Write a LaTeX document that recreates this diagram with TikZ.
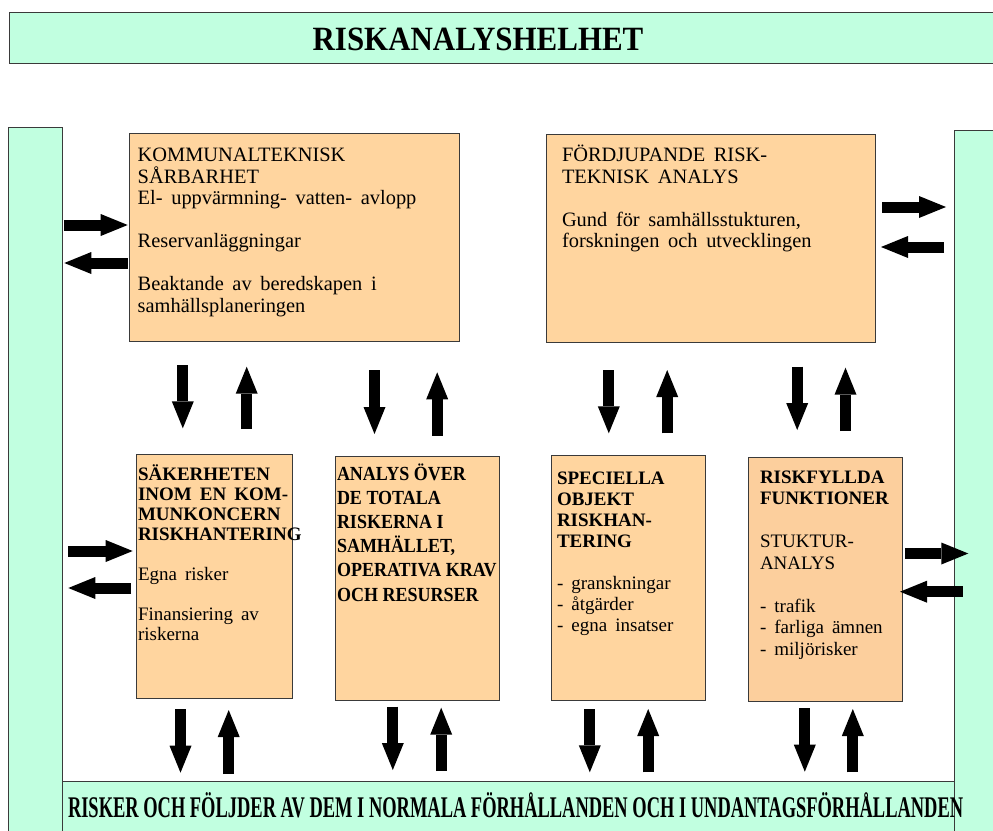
\documentclass[tikz,border=0pt]{standalone}
\usepackage{fontspec}
\setmainfont[WordSpace=1.7]{Liberation Serif}
\newfontfamily\titlefont[FakeStretch=0.91]{Liberation Serif}
\newfontfamily\bottomfont[FakeStretch=0.615]{Liberation Serif}
\newfontfamily\condfont[FakeStretch=0.9]{Liberation Serif}
\usetikzlibrary{arrows.meta}
\definecolor{mint}{HTML}{C1FFE0}
\definecolor{peach}{HTML}{FFD59F}
\definecolor{peachb}{HTML}{FCCF9D}
\definecolor{edge}{HTML}{3A3A3A}
\begin{document}
\begin{tikzpicture}[x=1pt,y=-1pt,
  panel/.style={draw=edge, line width=1pt, fill=mint, anchor=north west, inner sep=0pt, outer sep=0pt},
  box/.style={draw=edge, line width=1pt, fill=peach, anchor=north west, inner sep=0pt, outer sep=0pt},
  txt/.style={inner sep=0pt, outer sep=0pt, anchor=base west, align=left},
  blk/.style={line width=11pt, -{Triangle[width=22pt,length=27pt,line width=0pt]}},
]
\useasboundingbox (0,0) rectangle (993,830);
% panels
\node[panel, minimum width=990pt, minimum height=51pt] (top) at (9,12) {};
\node[anchor=base, inner sep=0pt] (toptext) at (478,50) {\titlefont\bfseries\fontsize{34}{36}\selectfont RISKANALYSHELHET};
\node[panel, minimum width=53.5pt, minimum height=710pt] (lcol) at (8.5,127.5) {};
\node[panel, minimum width=45pt, minimum height=710pt] (rcol) at (954,130) {};
\node[panel, minimum width=892pt, minimum height=60pt] (band) at (62,781) {};
\node[txt] (bandtext) at (68,817) {\bottomfont\bfseries\fontsize{30}{32}\selectfont RISKER OCH FÖLJDER AV DEM I NORMALA FÖRHÅLLANDEN OCH I UNDANTAGSFÖRHÅLLANDEN};
% boxes
\node[box, minimum width=330.3pt, minimum height=207.7pt] (k1) at (129,133.3) {};
\node[box, minimum width=329.7pt, minimum height=208.7pt] (k2) at (546,134) {};
\node[box, minimum width=155.3pt, minimum height=244pt] (k3) at (136.7,454) {};
\node[box, minimum width=164pt, minimum height=244pt] (k4) at (335,456) {};
\node[box, minimum width=154.2pt, minimum height=244.3pt] (k5) at (551.5,455.7) {};
\node[box, fill=peachb, minimum width=154pt, minimum height=243.7pt] (k6) at (748.3,457.3) {};
% texts (anchor = baseline of the last line)
\node[txt, font=\fontsize{20.4}{21.5}\selectfont] (t1) at (137.7,312.2) {KOMMUNALTEKNISK\\SÅRBARHET\\El- uppvärmning- vatten- avlopp\\[21.5pt]Reservanläggningar\\[21.5pt]Beaktande av beredskapen i\\samhällsplaneringen};
\node[txt, font=\fontsize{20.4}{21.5}\selectfont] (t2) at (562,247.7) {FÖRDJUPANDE RISK-\\TEKNISK ANALYS\\[21.5pt]Gund för samhällsstukturen,\\forskningen och utvecklingen};
\node[txt, font=\fontsize{19}{20}\selectfont] (t3) at (138,640) {\textbf{SÄKERHETEN}\\\textbf{INOM EN KOM-}\\\textbf{MUNKONCERN}\\\textbf{RISKHANTERING}\\[20pt]Egna risker\\[20pt]Finansiering av\\riskerna};
\node[txt, font=\condfont\bfseries\fontsize{20}{24.2}\selectfont] (t4) at (337,601) {ANALYS ÖVER\\DE TOTALA\\RISKERNA I\\SAMHÄLLET,\\OPERATIVA KRAV\\OCH RESURSER};
\node[txt, font=\fontsize{19}{21}\selectfont] (t5) at (557,631) {\textbf{SPECIELLA}\\\textbf{OBJEKT}\\\textbf{RISKHAN-}\\\textbf{TERING}\\[21pt]- granskningar\\- åtgärder\\- egna insatser};
\node[txt, font=\fontsize{19}{21.5}\selectfont] (t6) at (760,655) {\textbf{RISKFYLLDA}\\\textbf{FUNKTIONER}\\[21.5pt]STUKTUR-\\ANALYS\\[21.5pt]- trafik\\- farliga ämnen\\- miljörisker};
% arrow end points
\coordinate (a1s) at (64.3,225);   \coordinate (a1e) at (127.7,225);
\coordinate (a2s) at (127.7,263);  \coordinate (a2e) at (64.3,263);
\coordinate (a3s) at (882.3,207);  \coordinate (a3e) at (946,207);
\coordinate (a4s) at (944,247);    \coordinate (a4e) at (881,247);
\coordinate (a5s) at (68.3,551);   \coordinate (a5e) at (132.7,551);
\coordinate (a6s) at (131,588);    \coordinate (a6e) at (68.3,588);
\coordinate (a7s) at (905,553.5);  \coordinate (a7e) at (968.3,553.5);
\coordinate (a8s) at (962.7,591.7); \coordinate (a8e) at (900,591.7);
\draw[blk] (a1s) -- (a1e);
\draw[blk] (a2s) -- (a2e);
\draw[blk] (a3s) -- (a3e);
\draw[blk] (a4s) -- (a4e);
\draw[blk] (a5s) -- (a5e);
\draw[blk] (a6s) -- (a6e);
\draw[blk] (a7s) -- (a7e);
\draw[blk] (a8s) -- (a8e);
% vertical arrows, middle row
\coordinate (m1s) at (182.8,365);   \coordinate (m1e) at (182.8,428.3);
\coordinate (m2s) at (246.7,429);   \coordinate (m2e) at (246.7,366.7);
\coordinate (m3s) at (374.5,370);   \coordinate (m3e) at (374.5,434);
\coordinate (m4s) at (437.2,435.7); \coordinate (m4e) at (437.2,372.3);
\coordinate (m5s) at (608.8,370);   \coordinate (m5e) at (608.8,433.3);
\coordinate (m6s) at (667.2,433.3); \coordinate (m6e) at (667.2,370);
\coordinate (m7s) at (797.2,366.7); \coordinate (m7e) at (797.2,430);
\coordinate (m8s) at (845.5,431);   \coordinate (m8e) at (845.5,367.7);
\foreach \i in {1,...,8} \draw[blk] (m\i s) -- (m\i e);
% vertical arrows, bottom row
\coordinate (b1s) at (180.5,709.3); \coordinate (b1e) at (180.5,772.7);
\coordinate (b2s) at (228.7,774);   \coordinate (b2e) at (228.7,710);
\coordinate (b3s) at (392.8,706.7); \coordinate (b3e) at (392.8,770);
\coordinate (b4s) at (441.2,771);   \coordinate (b4e) at (441.2,707.7);
\coordinate (b5s) at (589.8,709.3); \coordinate (b5e) at (589.8,772.3);
\coordinate (b6s) at (648.2,772.3); \coordinate (b6e) at (648.2,709);
\coordinate (b7s) at (804.8,708.3); \coordinate (b7e) at (804.8,771.7);
\coordinate (b8s) at (852.8,772.3); \coordinate (b8e) at (852.8,709);
\foreach \i in {1,...,8} \draw[blk] (b\i s) -- (b\i e);
\end{tikzpicture}
\end{document}
